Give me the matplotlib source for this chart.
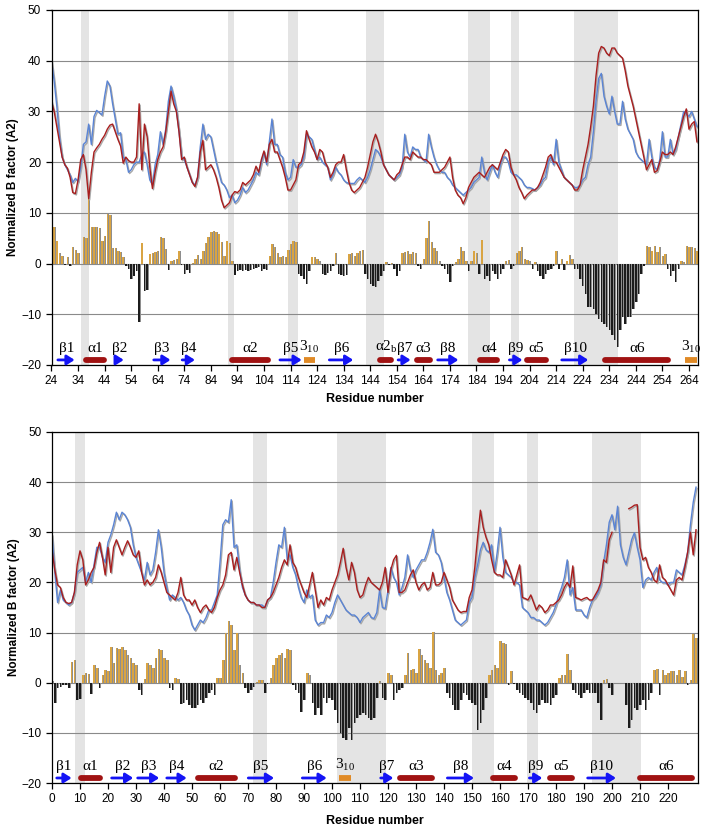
"""
Normalized B factor comparison, two structures
"""
import numpy as np
import matplotlib
matplotlib.use('Agg')
import matplotlib.pyplot as plt
import matplotlib.transforms as mtransforms

plt.rcParams['font.family'] = ['Liberation Sans', 'DejaVu Sans']

# ---------------- top panel (residues 24-267) ----------------
top_res = np.arange(24, 268)
top_blue = [
    40, 36, 31, 25, 21, 19.5, 18.5, 17.5, 16, 16.8,
    16.2, 19, 23.5, 24, 27.5, 23.5, 29, 30.2, 29.8, 29.3,
    33, 36, 35, 31.5, 28.5, 25.5, 25.8, 21, 20.5, 18,
    18.5, 19.5, 20, 20, 21.5, 22, 19.5, 16.5, 15.5, 19.5,
    21.5, 26, 23.5, 26.5, 32, 35, 33, 30.5, 26, 21,
    20.5, 19, 17.5, 16, 15.5, 17, 23, 27.5, 24.5, 25.5,
    25, 22.5, 20, 18, 16, 15.5, 14.5, 13, 13.5, 12,
    12.5, 13.5, 15, 14, 14.5, 15.5, 16.5, 18, 17.5, 20,
    22, 19.5, 24, 28.5, 23.5, 23.5, 21.5, 21, 18, 16.5,
    17, 20.5, 19, 19, 19.5, 21, 25.5, 25, 24.5, 22.5,
    20.5, 21, 20, 19.5, 19, 16.5, 17.5, 19, 18, 17.5,
    16.5, 16, 15.8, 15.8, 15.8, 16.5, 17, 16.5, 16, 17,
    18.5, 20.5, 22.5, 22, 21, 19.5, 18.5, 17.5, 17, 16.5,
    17, 17.5, 19, 25.5, 22, 21, 23, 22.5, 22.5, 21,
    20.5, 20, 25.5, 23, 21, 19.5, 18.5, 18, 18, 17,
    16.5, 15.5, 15, 14.5, 14, 13.5, 14, 14.5, 15, 16,
    16.5, 17, 21, 18, 16.5, 18, 19.5, 18, 17, 19.5,
    21, 21, 20, 18, 17.5, 17.5, 17, 16.5, 15.5, 15,
    15, 14.8, 14.5, 15, 15.5, 16.5, 17, 20, 21, 19.5,
    24.5, 20, 18.5, 17, 16.5, 16, 15.5, 15, 15, 15.5,
    16.5, 17, 19.5, 21, 26, 32, 36.5, 37.5, 33, 31,
    29.5, 33, 30, 27.5, 27.5, 32, 28.5, 26.5, 25.5, 24.5,
    22, 21, 20.5, 20, 19.5, 24.5, 21, 19, 18.5, 20.5,
    26, 21, 21, 24.5, 21.5, 22.5, 25, 27.5, 30, 29.5,
    29, 30, 28.5, 27,
]
top_red = [
    32, 30, 27, 24, 21, 19.5, 18.8, 17, 14, 13.8,
    16.5, 20.5, 21.5, 18.5, 12.8, 18, 22, 22.8, 23.5, 24.5,
    25.3, 26.5, 27.3, 27.5, 26, 24.5, 23.2, 19.8, 21, 20.3,
    20, 20, 21, 31.5, 18.5, 27.5, 25, 19, 14.8, 18,
    20.5, 22, 23, 26, 30, 34, 31.5, 30, 26, 20.5,
    21, 19, 17.5, 16, 15.2, 17, 22, 24.3, 18.5, 19,
    19.5, 18.5, 17, 15, 12.5, 11, 11.5, 12, 13.5, 14.2,
    14, 14.5, 16, 15.5, 16, 16.5, 17.5, 19.2, 18, 20.5,
    22.2, 20, 23.5, 24.5, 22, 22, 20.5, 19, 17, 14.5,
    14.5, 15.5, 16.5, 19.5, 20, 22, 26.2, 24.5, 23, 22,
    20.5, 22.5, 22, 20, 19, 17, 18, 19.5, 20, 20,
    21.5, 18.5, 16, 14.5, 14, 14.5, 15, 16, 17, 19,
    21.5, 24, 25.5, 24, 22, 19.5, 18.5, 17.5, 17, 16.5,
    17.5, 18, 19.5, 21, 21, 20.5, 22, 21.5, 21, 21,
    20.5, 20.5, 20, 19.5, 18, 18, 18, 18.5, 19, 20,
    21, 17, 14.5, 13.5, 13, 11.8, 13, 15, 16, 17,
    17.5, 18, 17.5, 17, 18, 19, 19.5, 19, 18.5, 20,
    21.5, 22.5, 22, 19, 17.5, 16.5, 15, 14, 12.8, 13.5,
    14, 14.5, 14.5, 15, 16, 17.5, 19, 21, 21.5, 20,
    20, 19, 18, 17, 16.5, 16, 15.5, 14.5, 14.5, 15.5,
    18.5, 21, 23.5, 27, 31, 37, 41.5, 42.8, 42.5, 41.5,
    41, 42.5, 42.5, 41.5, 41, 40.5, 38, 35, 33, 31,
    28.5, 26, 23.5, 21, 18.5, 19.5, 20.5, 18, 18.3, 20,
    22, 21.5, 21.5, 22, 21.5, 23, 25, 27, 29, 30.5,
    26.5, 27.5, 28, 24,
]
top_diff = [
    7.5, 7.2, 4.5, 2, 1.5, -0.3, 1.2, -0.4, 3.2, 2.6,
    2, -0.1, 5.2, 5.0, 14.5, 7.3, 7.3, 7.2, 7, 4.5,
    5.5, 9.8, 9.5, 3, 3, 2.5, 2.3, 1.2, -0.5, -1,
    -3, -2.5, -1.5, -11.5, 4, -5.5, -5.3, 1.8, 2, 2.2,
    2.5, 5.3, 5, 2.8, -1.2, 0.5, 0.8, 1, 2.5, -0.3,
    -2, -1.3, -1.8, 0.2, 1, 1.6, 1, 2.5, 4, 5.3,
    6.3, 6.5, 6.2, 5.8, 4.3, 1.5, 4.5, 4, 0.5, -2.3,
    -1.5, -1.2, -1.5, -1.3, -1.5, -1.2, -1, -0.8, -0.6, -1.5,
    -1, -1.3, 1.5, 3.8, 3.3, 2, 1.3, 1.5, 1.2, 2.7,
    3.8, 4.5, 4.2, -2, -2.5, -3, -4, -1.5, 1.2, 1.3,
    1, 0.5, -2, -2.2, -1.8, -1.5, -0.5, 2, -2, -2.2,
    -2.5, -2.2, 1.8, 2, 1.5, 2, 2.5, 2.6, -2, -3,
    -4, -4.5, -4.7, -3.5, -2.5, -1.5, 0.3, -0.3, 0.2, -1,
    -2.4, -1.5, 2, 2.2, 2.5, 1.8, 2.2, 2, -0.5, -1,
    1, 5, 8.3, 4.2, 3, 2.5, 0.5, -0.5, -1, -2,
    -3.7, -0.5, 0.3, 1, 3.2, 2.5, 0.5, -1.5, 0.5, 2.5,
    2, -2, 4.6, -3, -2.5, -3.4, -1.5, -2, -3, -2,
    -1, 0.5, 0.8, -1, -0.5, 2, 2.5, 3.3, 1, 0.8,
    0.5, -1, 0.3, -1.5, -2.5, -3, -2, -1.2, -1, -0.5,
    2.5, -1, 1, -1.2, 0.5, 1.6, 1, -1, -1, -3,
    -4.5, -6, -8.5, -8.5, -9, -10, -11, -11.5, -12, -12.5,
    -13, -14, -15, -16.5, -13, -10.5, -12, -10.5, -10.5, -9,
    -7.5, -6, -2, -0.5, 3.5, 3.3, 2.5, 3.5, 2.2, 3.3,
    1.5, 1.8, -1, -2.5, -1.5, -3.7, -1, 0.5, 0.3, 3.5,
    3.3, 3.3, 3, 2.5,
]
top_ticks = np.arange(24, 265, 10)
top_bands = [(35, 38), (90.3, 92.8), (112.9, 116.7), (142.5, 149.3),
             (180.9, 189.1), (197, 200), (220.8, 237.4)]
top_strands = [('β1', 26.4, 32.7), ('β2', 48.5, 51.2), ('β3', 62.5, 68.8),
               ('β4', 73.2, 78), ('β5', 110, 118.2), ('β6', 128.6, 137.6),
               ('β7', 154.5, 159.2), ('β8', 169.4, 177.2), ('β9', 196.4, 201.3),
               ('β10', 216.1, 226.1)]
top_helices = [('α1', 35.9, 44.9), ('α2', 90.9, 106.5),
               ('α2$_\\mathregular{b}$', 146.8, 153), ('α3', 160.5, 167.7),
               ('α4', 184.3, 192.9), ('α5', 201.9, 211.3), ('α6', 231.5, 257.3)]
top_turns = [('3$_\\mathregular{10}$', 119, 123.2), ('3$_\\mathregular{10}$', 262.5, 266.9)]

# ---------------- bottom panel (residues 0-230) ----------------
bot_res = np.arange(0, 231)
bot_blue = [
    29.5, 22, 16, 18.5, 16.5, 16, 15.5, 16, 18, 22,
    22.5, 23, 20, 22, 20, 23.5, 27, 27, 25, 24,
    28, 29.5, 31.5, 34, 32.5, 34, 33.5, 32.5, 31, 27.5,
    25, 23.5, 22, 20.5, 24, 21.5, 22.5, 26, 30.5, 27,
    22, 19, 16.5, 17.5, 17, 16.5, 17, 16, 14.5, 13.5,
    11.5, 10.5, 11.5, 12.5, 12, 13, 14.5, 14.5, 16, 17.5,
    24, 31.5, 32.5, 32, 36.5, 27, 27.5, 22.5, 19, 17.5,
    16.5, 16, 16, 15.5, 15.5, 15.5, 15, 16.5, 17, 20,
    24, 27.5, 27, 31, 24.5, 25.5, 23, 21.5, 19, 17,
    16, 18.5, 17, 17.5, 12.5, 11.5, 12, 12, 13.5, 13,
    14, 16, 17.5, 16.5, 15.5, 14.5, 14, 13.5, 13.5, 13,
    12, 13, 13.5, 14, 13, 12.8, 14, 18.5, 15, 14.8,
    18.5, 23, 21, 20, 17.5, 19, 21, 25.5, 22.5, 21,
    22.5, 23.5, 24.5, 24.5, 26, 28, 30.6, 26, 25.5, 24,
    21, 18, 16.5, 14.5, 12.5, 12, 11.5, 12, 12.5, 16,
    17, 21, 23.5, 26.5, 28, 26.5, 26, 27.5, 22, 26,
    31, 25, 22, 21.5, 21, 20, 20, 19.5, 15, 14.5,
    14, 13, 13, 12.5, 12.5, 12, 11.5, 12, 13, 14,
    15.5, 17.5, 19, 21, 24.5, 17.5, 19, 14.5, 14.5, 14.5,
    13.5, 13, 15, 16.5, 17, 18, 19.5, 24, 27.5, 32,
    33.5, 30.5, 35.2, 27.5, 25, 23.5, 26, 28.5, 29.9, 27,
    24.5, 19, 20.5, 21, 20.5, 22, 23, 20.5, 20, 20,
    19.5, 20, 20, 22.5, 22, 21.5, 23.5, 26, 31.5, 36,
    39,
]
bot_red = [
    26.5, 22.5, 19.5, 19, 17, 16, 15.8, 16, 18, 23.5,
    26.3, 24.5, 19.5, 20.5, 22, 23, 26, 28, 25, 21.5,
    27, 22, 27, 28.5, 27, 25.5, 27, 28.3, 27, 25.5,
    25, 26.3, 22, 19.5, 20.5, 19.5, 20, 21, 23.5, 22,
    20, 18, 17.5, 17, 16.5, 18, 21, 17.5, 16.5, 16.5,
    15.5, 16.5, 15, 14, 15, 15.5, 14.5, 14, 15, 17,
    18.5, 19.5, 21.5, 25.5, 26, 22.5, 25, 22, 19.5, 17.5,
    16.5, 16, 16, 15.5, 15.5, 15, 15, 16.5, 17, 18,
    19.5, 21, 23, 24.5, 23.5, 27.5, 24, 23, 21, 19.5,
    18, 17, 19.5, 22, 18.5, 15, 16.5, 15.5, 17, 16.5,
    18.5, 20, 21.5, 24, 26.8, 23, 20.5, 24, 22, 18.5,
    17, 17.5, 19.5, 21, 20, 19.5, 19, 18.5, 20, 23,
    18, 22.5, 24.5, 25.4, 18, 18, 18.5, 20, 21.5, 22.5,
    20, 18.5, 19.5, 20, 18.5, 19, 22, 19.5, 19.5, 20,
    22, 20.5, 19, 16.5, 15.5, 14.5, 14, 14.2, 14.2, 17,
    18.5, 23, 29, 34.4, 31, 29, 27.5, 24.5, 22, 21.5,
    21.5, 21, 24.5, 23, 21.5, 19.5, 21.5, 23.5, 17, 16.8,
    16.5, 17.5, 16, 14.5, 15.5, 15, 14, 14.5, 15.5, 15.5,
    16, 16.5, 17.5, 19, 20, 19, 23.3, 17, 16.8, 16.5,
    16.8, 17, 16.5, 16.5, 17.5, 18.5, 20, 24.5, 24, 28.5,
    30, np.nan, np.nan, np.nan, np.nan, np.nan, 34.7, 35, 35.4, 35.5,
    27, 24.5, 25, 23, 22, 20.5, 20, 23.5, 21, 20.5,
    19.5, 18.5, 17.5, 20.5, 21, 20.5, 23, 26, 30, 25.5,
    30.5,
]
bot_diff = [
    0.3, -4, -1, -0.8, -0.5, -0.5, -1, 4.2, 4.5, -3.5,
    -3.3, 1.5, 2, 1.8, -2.2, 3.5, 3, -1, 1.5, 2.5,
    2.3, 7.2, 4, 7, 6.8, 7.2, 6.5, 5.5, 5, 4,
    3.5, -1.5, -2.5, 0.8, 4, 3.5, 3, 5, 6.8, 6.5,
    5, 4.5, -1, -1.5, 1, 0.8, -4.3, -4, -3.5, -4.5,
    -5, -5, -4.5, -3.5, -4, -3, -2, -1.5, -2.5, 1,
    1, 4.5, 10, 12.3, 11.5, 6.5, 10, 3.5, 2, -1,
    -2, -1.5, -0.8, 0.2, 0.5, 0.6, -2, -0.3, 1, 3.5,
    5, 5.5, 6, 5, 6.8, 6.5, -0.5, -1.5, -2, -5.8,
    -3.5, 2, 1.5, -4, -6.5, -5, -6.5, -3, -4, -3,
    -3.5, -5.5, -8, -10, -11, -11.5, -9, -11.5, -8, -7,
    -6.5, -6, -6.5, -7, -7.5, -7, -3, 0.3, -3, -3.5,
    2, 1.5, -3.5, -2, -1.5, -1, 1.5, 6, 2.5, 2.8,
    2, 6.8, 5.5, 4.5, 4, 3, 10.2, 2.5, 1.5, 2,
    3, -2, -3, -4.5, -5.5, -5.5, -3.5, -2, -2.5, -3.5,
    -4, -4.5, -9.5, -8, -5.5, -3, 1.5, 2.5, 3.5, 3,
    8.3, 8, 7.8, -0.5, 2.3, -0.3, -1.5, -2, -2.5, -3,
    -3.5, -4, -5.5, -6, -4.5, -3.5, -4, -4, -4.5, -3,
    -2.5, 1, 1.5, 1.5, 5.8, 2.5, -1.5, -2, -2.5, -3,
    -2, -1.5, -2, -2, -2, -4, -7.5, 0.5, 0.8, -1,
    -2.5, 0, 0, 0, 0, -4.5, -9, -7.5, -5, -5.5,
    -4.5, -3.5, -5.5, -3.5, -2, 2.5, 2.8, -2.5, 2.5, 1.5,
    2, 2.3, 2.3, 1.5, 2.5, 1.2, 2.3, -0.5, 0.5, 9.8,
    9,
]
bot_ticks = np.arange(0, 221, 10)
bot_bands = [(8.2, 11.8), (71.9, 76.7), (101.9, 119.2), (150.1, 157.9),
             (169.5, 173.5), (193, 210.4)]
bot_strands = [('β1', 1.7, 7), ('β2', 21.3, 29), ('β3', 30.6, 38.3),
               ('β4', 41, 48.1), ('β5', 70.1, 79.3), ('β6', 89.4, 98.1),
               ('β7', 117.4, 121.9), ('β8', 141.2, 150.7), ('β9', 170.5, 175.1),
               ('β10', 191.3, 201.4)]
bot_helices = [('α1', 9.4, 18), ('α2', 51, 66.3), ('α3', 123.3, 136.8),
               ('α4', 156.4, 166.5), ('α5', 176.7, 186.8), ('α6', 209, 229.4)]
bot_turns = [('3$_\\mathregular{10}$', 102.6, 106.7)]

yticks = np.arange(-20, 51, 10)

# colours
BLUE = '#5a84d4'
RED = '#a81e1e'
GOLD = '#d9a443'
DARK = '#1c1c1c'
SHADOW = '#a8a8a8'
BAND = '#e4e4e4'
STRAND = '#1414f5'
HELIX = '#a01212'
TURN = '#e08a26'


def draw_panel(fig, ax, res, blue, red, diff, bands, strands, helices, turns,
               xlim, ticks, px_per_res):
    diff = np.asarray(diff, dtype=float)

    # shaded regions
    for x0, x1 in bands:
        ax.axvspan(x0, x1, color=BAND, lw=0, zorder=0.1)

    # difference bars with a little shadow on the right
    cols = np.where(diff >= 0, GOLD, DARK)
    ax.bar(res + 0.35, diff, width=0.55, color='#8e8e8e', lw=0, zorder=1.0)
    ax.bar(res, diff, width=0.55, color=cols, lw=0, zorder=1.1)

    # B-factor curves, each with a soft grey shadow
    shadow = mtransforms.offset_copy(ax.transData, fig=fig, x=1.0, y=-1.3, units='dots')
    for vals, col in [(blue, BLUE), (red, RED)]:
        ax.plot(res, vals, color=SHADOW, lw=1.0, transform=shadow, zorder=1.8)
        ax.plot(res, vals, color=col, lw=1.0, zorder=2.0)

    # secondary structure
    y_el = -19.0
    y_lab = -18.0
    lab_kw = dict(ha='center', va='bottom', fontsize=11,
                  family=['Liberation Serif', 'DejaVu Serif'], zorder=4)
    cap = 2.8 / px_per_res
    for name, x0, x1 in strands:
        ax.annotate('', xy=(x1, y_el), xytext=(x0, y_el),
                    arrowprops=dict(arrowstyle='-|>,head_length=0.5,head_width=0.32',
                                    color=STRAND, lw=2.0, mutation_scale=9,
                                    shrinkA=0, shrinkB=0), zorder=3)
        ax.text((x0 + x1) / 2, y_lab, name, **lab_kw)
    for name, x0, x1 in helices:
        ax.plot([x0 + cap, x1 - cap], [y_el, y_el], color=HELIX, lw=4.2,
                solid_capstyle='round', zorder=3)
        ax.text((x0 + x1) / 2, y_lab, name, **lab_kw)
    for name, x0, x1 in turns:
        ax.plot([x0, x1], [y_el, y_el], color=TURN, lw=4.2,
                solid_capstyle='butt', zorder=3)
        ax.text((x0 + x1) / 2, y_lab, name, **lab_kw)

    ax.set_xlim(*xlim)
    ax.set_ylim(-20, 50)
    ax.set_xticks(ticks)
    ax.set_yticks(yticks)
    ax.set_axisbelow(True)
    ax.yaxis.grid(True, color='#8a8a8a', lw=0.8)
    ax.tick_params(direction='out', length=4, width=0.9, labelsize=8.5, color='black')
    for sp in ax.spines.values():
        sp.set_color('black')
        sp.set_linewidth(0.9)
    ax.set_ylabel('Normalized B factor (A2)', fontsize=8.5, fontweight='bold')
    ax.set_xlabel('Residue number', fontsize=9, fontweight='bold')


def main():
    W, H = 704, 831
    fig = plt.figure(figsize=(W / 100, H / 100), dpi=100)

    ax1 = fig.add_axes([51.5 / W, 1 - 365 / H, 646.5 / W, 355 / H])
    ax2 = fig.add_axes([52 / W, 1 - 783 / H, 645.7 / W, 351 / H])

    draw_panel(fig, ax1, top_res, top_blue, top_red, top_diff, top_bands,
               top_strands, top_helices, top_turns, (24, 267.4), top_ticks, 2.655)
    draw_panel(fig, ax2, bot_res, bot_blue, bot_red, bot_diff, bot_bands,
               bot_strands, bot_helices, bot_turns, (0, 230.6), bot_ticks, 2.8)

    for ax, ybot in [(ax1, -0.080), (ax2, -0.090)]:
        ax.yaxis.set_label_coords(-0.05, 0.5)
        ax.xaxis.set_label_coords(0.5, ybot)

    fig.savefig('out.png', dpi=100)


if __name__ == '__main__':
    main()
